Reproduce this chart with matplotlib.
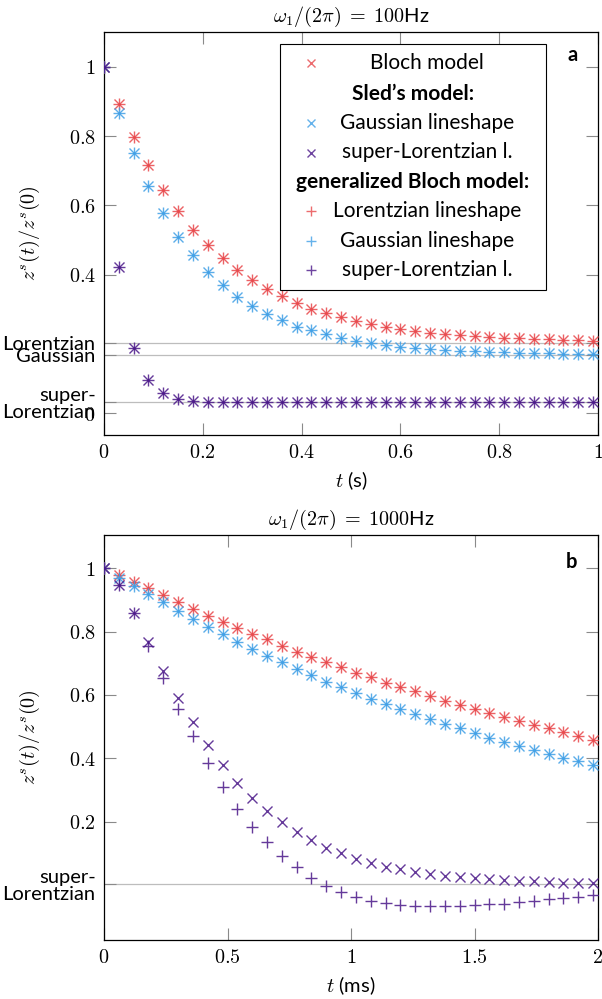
import numpy as np
import matplotlib
matplotlib.use('Agg')
import matplotlib.pyplot as plt
from matplotlib.patches import Rectangle

plt.rcParams['font.family'] = ['Lato', 'DejaVu Sans']
plt.rcParams['mathtext.fontset'] = 'cm'

RED = '#e8474a'
BLUE = '#3f9fe6'
PURPLE = '#4a1788'
GRAY_LINE = '#bdbdbd'

# panel a: w1/(2pi) = 100 Hz, t in s
t_a = np.round(np.arange(34) * 0.03, 2)
bloch_a = [1.000, 0.892, 0.797, 0.715, 0.645, 0.583, 0.530, 0.486, 0.449, 0.414,
           0.384, 0.360, 0.338, 0.319, 0.302, 0.289, 0.277, 0.267, 0.258, 0.250,
           0.243, 0.237, 0.232, 0.228, 0.225, 0.222, 0.220, 0.218, 0.216, 0.214,
           0.213, 0.212, 0.211, 0.210]
gauss_a = [1.000, 0.865, 0.752, 0.657, 0.577, 0.510, 0.456, 0.408, 0.369, 0.337,
           0.309, 0.286, 0.268, 0.250, 0.240, 0.228, 0.218, 0.210, 0.202, 0.196,
           0.192, 0.188, 0.185, 0.183, 0.181, 0.180, 0.178, 0.176, 0.175, 0.174,
           0.173, 0.172, 0.171, 0.170]
superlor_a = [1.000, 0.422, 0.188, 0.095, 0.058, 0.042, 0.036, 0.033, 0.033, 0.033,
              0.033, 0.033, 0.033, 0.033, 0.033, 0.033, 0.033, 0.033, 0.033, 0.033,
              0.033, 0.033, 0.033, 0.033, 0.033, 0.033, 0.033, 0.033, 0.033, 0.033,
              0.033, 0.033, 0.033, 0.033]
yticks_a = [0, 0.4, 0.6, 0.8, 1]
levels_a = [0.2015, 0.168, 0.0325]
level_names_a = ['Lorentzian', 'Gaussian', 'super-\nLorentzian']

# panel b: w1/(2pi) = 1000 Hz, t in ms
t_b = np.round(np.arange(34) * 0.06, 2)
bloch_b = [1.000, 0.979, 0.958, 0.937, 0.914, 0.893, 0.871, 0.850, 0.831, 0.811,
           0.792, 0.775, 0.755, 0.737, 0.720, 0.703, 0.687, 0.670, 0.655, 0.639,
           0.626, 0.611, 0.596, 0.582, 0.569, 0.555, 0.543, 0.530, 0.517, 0.506,
           0.494, 0.482, 0.470, 0.459]
gauss_b = [1.000, 0.969, 0.944, 0.918, 0.892, 0.866, 0.840, 0.815, 0.791, 0.768,
           0.746, 0.724, 0.703, 0.683, 0.662, 0.642, 0.626, 0.606, 0.588, 0.572,
           0.555, 0.540, 0.524, 0.509, 0.494, 0.481, 0.465, 0.452, 0.438, 0.425,
           0.413, 0.401, 0.391, 0.378]
sled_superlor_b = [1.000, 0.947, 0.858, 0.766, 0.677, 0.591, 0.514, 0.442, 0.379, 0.323,
                   0.276, 0.234, 0.198, 0.167, 0.142, 0.117, 0.100, 0.083, 0.069, 0.058,
                   0.050, 0.040, 0.034, 0.028, 0.025, 0.021, 0.018, 0.016, 0.013, 0.011,
                   0.008, 0.007, 0.006, 0.005]
gbloch_superlor_b = [1.000, 0.947, 0.858, 0.753, 0.652, 0.557, 0.469, 0.385, 0.308, 0.240,
                     0.182, 0.134, 0.092, 0.055, 0.023, -0.002, -0.021, -0.037, -0.050, -0.058,
                     -0.062, -0.066, -0.068, -0.068, -0.067, -0.065, -0.061, -0.059, -0.055, -0.051,
                     -0.046, -0.041, -0.037, -0.033]
yticks_b = [0.2, 0.4, 0.6, 0.8, 1]
levels_b = [0.002]
level_names_b = ['super-\nLorentzian']

legend_rows = [('x', RED, 'Bloch model'),
               (None, None, 'Sled’s model:'),
               ('x', BLUE, 'Gaussian lineshape'),
               ('x', PURPLE, 'super-Lorentzian l.'),
               (None, None, 'generalized Bloch model:'),
               ('+', RED, 'Lorentzian lineshape'),
               ('+', BLUE, 'Gaussian lineshape'),
               ('+', PURPLE, 'super-Lorentzian l.')]

W, H = 602, 999


def pts(ax, t, y, marker, color):
    if marker == 'x':
        ax.plot(t, y, ls='none', marker='x', ms=6.5, mew=1.0, color=color, alpha=0.85, zorder=3)
    else:
        ax.plot(t, y, ls='none', marker='+', ms=8, mew=1.0, color=color, alpha=0.85, zorder=3)


def style_axes(ax, xlim, xticks, ylim, yticks, levels, level_names):
    ax.set_xlim(*xlim)
    ax.set_ylim(*ylim)
    ax.set_xticks(xticks, [f'${v:g}$' for v in xticks])
    yl = [f'${v:g}$' for v in yticks]
    ax.set_yticks(list(yticks) + levels, yl + level_names)
    for lab in ax.get_yticklabels():
        lab.set_linespacing(1.0)
    ax.tick_params(direction='in', length=8.4, width=0.8, color='#8a8a8a',
                   top=True, right=True, labelsize=14.5, pad=6)
    for s in ax.spines.values():
        s.set_linewidth(0.9)
    for lv in levels:
        ax.axhline(lv, color=GRAY_LINE, lw=0.9, zorder=1)
    ax.set_ylabel(r'$z^s(t)/z^s(0)$', fontsize=14.5)
    ax.yaxis.set_label_coords(-0.125, 0.5)


def draw_legend(ax, box, rows_y, marker_x, text_x, head_x):
    x0, y0, x1, y1 = box
    ax.add_patch(Rectangle((x0, y0), x1 - x0, y1 - y0, transform=ax.transAxes,
                           facecolor='white', edgecolor='black', lw=0.8, zorder=5))
    for (m, c, lab), y in zip(legend_rows, rows_y):
        if m is None:
            ax.text(head_x, y, lab, transform=ax.transAxes, ha='center', va='center',
                    fontsize=15, fontweight='bold', zorder=6)
        else:
            ax.plot([marker_x], [y], transform=ax.transAxes, ls='none', marker=m,
                    ms=6 if m == 'x' else 7.5, mew=1.0, color=c, alpha=0.8, zorder=6,
                    clip_on=False)
            ax.text(text_x, y, lab, transform=ax.transAxes, ha='center', va='center',
                    fontsize=15, zorder=6)


def ax_rect(left, top, right, bottom):
    return [left / W, 1 - bottom / H, (right - left) / W, (bottom - top) / H]


def draw():
    fig = plt.figure(figsize=(W / 100, H / 100), dpi=100)
    ax1 = fig.add_axes(ax_rect(104, 32, 598, 435))
    ax2 = fig.add_axes(ax_rect(104, 535, 598, 940))

    # panel a
    pts(ax1, t_a, bloch_a, 'x', RED)
    pts(ax1, t_a, bloch_a, '+', RED)
    pts(ax1, t_a, gauss_a, 'x', BLUE)
    pts(ax1, t_a, gauss_a, '+', BLUE)
    pts(ax1, t_a, superlor_a, 'x', PURPLE)
    pts(ax1, t_a, superlor_a, '+', PURPLE)
    style_axes(ax1, (0, 1), [0, 0.2, 0.4, 0.6, 0.8, 1], (-0.0625, 1.1),
               yticks_a, levels_a, level_names_a)
    ax1.set_title(r'$\omega_1/(2\pi)\;=\;100$Hz', fontsize=14.5, pad=7)
    ax1.set_xlabel(r'$t$ (s)', fontsize=14.5, labelpad=6)
    ax1.text(0.949, 0.943, 'a', transform=ax1.transAxes, ha='center', va='center',
             fontsize=14.5, fontweight='bold')

    h = 403.0
    rows_y = [(435 - p) / h for p in [63.3, 93.5, 122.7, 152.5, 181.7, 211, 240.7, 270]]
    draw_legend(ax1, ((280 - 104) / 494, (435 - 290) / h, (546 - 104) / 494, (435 - 44) / h),
                rows_y, (310.7 - 104) / 494, (427 - 104) / 494, (413 - 104) / 494)

    # panel b
    pts(ax2, t_b, bloch_b, 'x', RED)
    pts(ax2, t_b, bloch_b, '+', RED)
    pts(ax2, t_b, gauss_b, 'x', BLUE)
    pts(ax2, t_b, gauss_b, '+', BLUE)
    pts(ax2, t_b, sled_superlor_b, 'x', PURPLE)
    pts(ax2, t_b, gbloch_superlor_b, '+', PURPLE)
    style_axes(ax2, (0, 2), [0, 0.5, 1, 1.5, 2], (-0.174, 1.105),
               yticks_b, levels_b, level_names_b)
    ax2.set_title(r'$\omega_1/(2\pi)\;=\;1000$Hz', fontsize=14.5, pad=7)
    ax2.set_xlabel(r'$t$ (ms)', fontsize=14.5, labelpad=6)
    ax2.text(0.947, 0.933, 'b', transform=ax2.transAxes, ha='center', va='center',
             fontsize=14.5, fontweight='bold')

    fig.savefig('out.png', dpi=100)


if __name__ == '__main__':
    draw()
